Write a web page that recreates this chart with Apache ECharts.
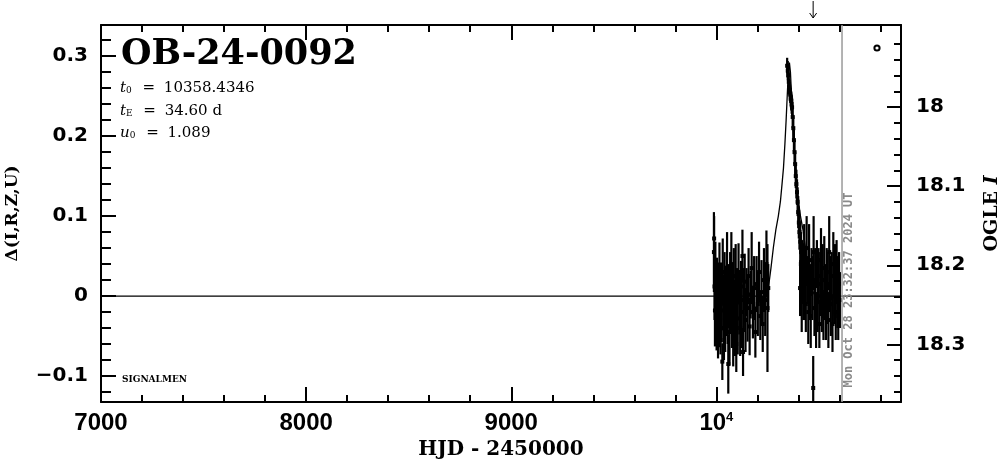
<!DOCTYPE html>
<html><head><meta charset="utf-8">
<script src="https://cdn.jsdelivr.net/npm/echarts@6/dist/echarts.min.js"></script>
<style>html,body{margin:0;padding:0;background:#fff}#c{width:1004px;height:459px}</style>
</head><body><div id="c"></div>
<script>
// ---- OGLE data: HJD-2450000, Delta mag, error ----
const hjd = [
 9988, 9989, 9991, 9993, 9995, 9998, 10001, 10003, 10006, 10008,
 10011, 10013, 10015, 10018, 10020, 10023, 10026, 10029, 10031, 10034,
 10037, 10040, 10043, 10046, 10049, 10052, 10055, 10058, 10061, 10064,
 10067, 10070, 10073, 10076, 10079, 10082, 10085, 10088, 10091, 10094,
 10097, 10100, 10104, 10108, 10112, 10116, 10120, 10124, 10127, 10130,
 10134, 10138, 10142, 10147, 10152, 10157, 10162, 10167, 10172, 10178,
 10184, 10190, 10196, 10202, 10208, 10214, 10220, 10226, 10232, 10238,
 10244, 10249, 10253,
 10345, 10348, 10350, 10353, 10355, 10358, 10360, 10363, 10365, 10367,
 10369, 10372, 10375, 10378, 10381, 10384, 10387, 10390, 10393, 10396,
 10399, 10402, 10405, 10409, 10413, 10418, 10423,
 10408, 10412, 10416, 10420, 10424, 10428, 10432, 10436, 10440, 10444,
 10448, 10452, 10456, 10460, 10464, 10468, 10472, 10474, 10478, 10482,
 10486, 10490, 10494, 10498, 10502, 10506, 10510, 10514, 10518, 10522,
 10526, 10530, 10534, 10538, 10542, 10546, 10550, 10554, 10558, 10562,
 10566, 10570, 10574, 10578, 10582, 10586, 10590, 10594, 10598, 10602
];
const delta = [
 0.055, 0.072, 0.012, -0.018, 0.028, -0.004, -0.035, 0.012, -0.022, -0.048,
 0.004, -0.014, 0.022, -0.030, -0.055, 0.006, -0.018, -0.082, 0.030, -0.008,
 -0.040, 0.015, -0.025, 0.008, -0.012, 0.035, -0.030, -0.085, 0.000, -0.045,
 0.020, -0.015, 0.040, -0.020, 0.005, -0.050, 0.015, -0.010, -0.035, 0.025,
 -0.060, 0.000, -0.028, 0.030, -0.008, -0.040, 0.012, -0.020, 0.050, -0.070,
 -0.005, 0.018, -0.030, 0.005, -0.015, 0.025, -0.038, 0.002, 0.035, -0.020,
 0.010, -0.045, 0.015, -0.010, 0.030, -0.025, 0.005, -0.035, 0.020, -0.005,
 0.040, -0.015, 0.010,
 0.288, 0.282, 0.276, 0.268, 0.262, 0.256, 0.252, 0.248, 0.244, 0.240,
 0.236, 0.224, 0.210, 0.195, 0.180, 0.165, 0.150, 0.140, 0.130, 0.118,
 0.105, 0.092, 0.080, 0.068, 0.055, 0.045, 0.040,
 0.010, 0.040, -0.005, 0.025, 0.000, 0.050, 0.015, -0.010, 0.060, 0.020,
 -0.020, 0.045, 0.005, -0.025, 0.030, 0.010, -0.115, 0.055, -0.015, 0.020,
 -0.030, 0.040, 0.000, 0.025, -0.035, 0.015, 0.045, -0.010, 0.020, -0.025,
 0.035, 0.005, -0.015, 0.030, 0.010, -0.030, 0.055, 0.015, -0.010, 0.025,
 -0.035, 0.040, 0.000, 0.020, -0.020, 0.030, 0.005, -0.025, 0.015, -0.005
];
const err = [
 0.050, 0.028, 0.042, 0.045, 0.040, 0.038, 0.033, 0.036, 0.041, 0.030,
 0.038, 0.030, 0.045, 0.034, 0.018, 0.036, 0.040, 0.023, 0.042, 0.035,
 0.040, 0.040, 0.045, 0.030, 0.038, 0.045, 0.030, 0.037, 0.040, 0.042,
 0.035, 0.030, 0.040, 0.045, 0.033, 0.038, 0.045, 0.030, 0.040, 0.040,
 0.035, 0.035, 0.045, 0.036, 0.040, 0.035, 0.032, 0.045, 0.033, 0.030,
 0.040, 0.035, 0.040, 0.030, 0.042, 0.035, 0.036, 0.030, 0.045, 0.033,
 0.040, 0.032, 0.035, 0.040, 0.038, 0.030, 0.040, 0.035, 0.040, 0.045,
 0.042, 0.080, 0.030,
 0.010, 0.012, 0.010, 0.012, 0.010, 0.012, 0.010, 0.012, 0.012, 0.012,
 0.012, 0.014, 0.015, 0.014, 0.015, 0.016, 0.015, 0.018, 0.016, 0.018,
 0.020, 0.020, 0.022, 0.024, 0.025, 0.025, 0.026,
 0.035, 0.030, 0.040, 0.035, 0.030, 0.040, 0.045, 0.035, 0.040, 0.030,
 0.040, 0.045, 0.035, 0.040, 0.030, 0.040, 0.040, 0.045, 0.035, 0.040,
 0.035, 0.030, 0.045, 0.035, 0.030, 0.040, 0.040, 0.035, 0.045, 0.030,
 0.040, 0.035, 0.040, 0.030, 0.045, 0.035, 0.045, 0.035, 0.040, 0.030,
 0.035, 0.040, 0.035, 0.045, 0.035, 0.040, 0.045, 0.030, 0.040, 0.035
];
// ---- model curve ----
const modelT = [7000, 10230, 10254, 10266, 10278, 10290, 10302, 10312, 10320, 10327, 10334, 10340, 10346, 10351, 10356,
                10361, 10366, 10372, 10378, 10385, 10392, 10400, 10410, 10422, 10434, 10446, 10458, 10482, 10900];
const modelD = [0, 0, 0.011, 0.035, 0.061, 0.083, 0.100, 0.118, 0.140, 0.160, 0.190, 0.220, 0.254, 0.280, 0.292,
                0.280, 0.254, 0.220, 0.190, 0.160, 0.140, 0.118, 0.100, 0.083, 0.061, 0.035, 0.011, 0, 0];
// ---- ticks ----
const xMajorTicks = [7000, 8000, 9000, 10000];
const xMinorTicks = [7200, 7400, 7600, 7800, 8200, 8400, 8600, 8800, 9200, 9400, 9600, 9800, 10200, 10400, 10600, 10800];
const dMajorTicks = [-0.1, 0, 0.1, 0.2, 0.3];
const dMinorTicks = [-0.12, -0.08, -0.06, -0.04, -0.02, 0.02, 0.04, 0.06, 0.08, 0.12, 0.14, 0.16, 0.18, 0.22, 0.24, 0.26, 0.28, 0.32];
const iMajorTicks = [18, 18.1, 18.2, 18.3];
const iMinorTicks = [17.92, 17.94, 17.96, 17.98, 18.02, 18.04, 18.06, 18.08, 18.12, 18.14, 18.16, 18.18, 18.22, 18.24, 18.26, 18.28, 18.32, 18.34, 18.36];
// ---- markers ----
const nowHJD = 10612.48;
const nowLabel = 'Mon Oct 28 23:32:37 2024 UT';
const arrowHJD = [10471.7];

const X_MIN = 7000, X_MAX = 10900;
const D_MIN = -0.1325, D_MAX = 0.339;
const I_MIN = 17.896, I_MAX = 18.373;

const chart = echarts.init(document.getElementById('c'), null, {renderer: 'canvas'});

const black = '#000';
const lineAx = {show: true, onZero: false, lineStyle: {color: black, width: 2}};
const noLine = {show: false, onZero: false};
function ax(o) {
  return Object.assign({type: 'value', splitLine: {show: false}, minorTick: {show: false}, minorSplitLine: {show: false}}, o);
}
const tickStyle = {color: black, width: 2};

const errData = hjd.map((t, i) => [t, delta[i], err[i]]);
const modelData = modelT.map((t, i) => [t, modelD[i]]);

const paramRich = {
  i: {fontFamily: 'DejaVu Serif', fontStyle: 'italic', fontSize: 15, color: black},
  s: {fontFamily: 'DejaVu Serif', fontSize: 9, verticalAlign: 'bottom', color: black},
  e: {fontFamily: 'DejaVu Serif', fontSize: 15, padding: [0, 4, 0, 6], color: black}
};

const option = {
  animation: false,
  backgroundColor: '#fff',
  grid: {left: 101, right: 103, top: 25, bottom: 57, containLabel: false, outerBoundsMode: 'none'},
  xAxis: [
    ax({position: 'bottom', min: X_MIN, max: X_MAX, axisLine: lineAx,
        axisTick: {show: true, inside: true, length: 7, customValues: xMinorTicks, lineStyle: tickStyle},
        axisLabel: {show: false}}),
    ax({position: 'bottom', min: X_MIN, max: X_MAX, axisLine: noLine,
        axisTick: {show: true, inside: true, length: 15, customValues: xMajorTicks, lineStyle: tickStyle},
        axisLabel: {show: true, customValues: xMajorTicks, margin: 9, color: black,
          fontFamily: 'Liberation Sans', fontWeight: 'bold', fontSize: 24,
          formatter: v => v === 10000 ? '{b|10}{sup|4}' : String(v),
          rich: {b: {fontFamily: 'Liberation Sans', fontWeight: 'bold', fontSize: 24, color: black},
                 sup: {fontFamily: 'Liberation Sans', fontWeight: 'bold', fontSize: 13, color: black, verticalAlign: 'top'}}},
        name: 'HJD - 2450000', nameLocation: 'middle', nameGap: 34,
        nameTextStyle: {fontFamily: 'DejaVu Serif', fontWeight: 'bold', fontSize: 20, color: black}}),
    ax({position: 'top', min: X_MIN, max: X_MAX, axisLine: lineAx,
        axisTick: {show: true, inside: true, length: 7, customValues: xMinorTicks, lineStyle: tickStyle},
        axisLabel: {show: false}}),
    ax({position: 'top', min: X_MIN, max: X_MAX, axisLine: noLine,
        axisTick: {show: true, inside: true, length: 15, customValues: xMajorTicks, lineStyle: tickStyle},
        axisLabel: {show: false}})
  ],
  yAxis: [
    ax({position: 'left', min: D_MIN, max: D_MAX, axisLine: lineAx,
        axisTick: {show: true, inside: true, length: 15, customValues: dMajorTicks, lineStyle: tickStyle},
        axisLabel: {show: true, customValues: dMajorTicks, margin: 13, color: black,
          fontFamily: 'DejaVu Sans', fontWeight: 'bold', fontSize: 20,
          formatter: v => v === 0 ? '0' : (v < 0 ? '\u2212' + (-v).toFixed(1) : v.toFixed(1))},
        name: '\u0394(I,R,Z,U)', nameLocation: 'middle', nameRotate: 90, nameGap: 80,
        nameTextStyle: {fontFamily: 'DejaVu Serif', fontWeight: 'bold', fontSize: 17, color: black}}),
    ax({position: 'left', min: D_MIN, max: D_MAX, axisLine: noLine,
        axisTick: {show: true, inside: true, length: 10, customValues: dMinorTicks, lineStyle: tickStyle},
        axisLabel: {show: false}}),
    ax({position: 'right', min: I_MIN, max: I_MAX, inverse: true, axisLine: lineAx,
        axisTick: {show: true, inside: true, length: 14, customValues: iMajorTicks, lineStyle: tickStyle},
        axisLabel: {show: true, customValues: iMajorTicks, margin: 15, color: black,
          fontFamily: 'DejaVu Sans', fontWeight: 'bold', fontSize: 20,
          formatter: v => (Math.round(v * 10) % 10 === 0) ? String(Math.round(v)) : v.toFixed(1)},
        name: 'OGLE {i|I}', nameLocation: 'middle', nameRotate: 90, nameGap: 82,
        nameTextStyle: {fontFamily: 'DejaVu Serif', fontWeight: 'bold', fontSize: 19, color: black,
          rich: {i: {fontFamily: 'DejaVu Serif', fontWeight: 'bold', fontStyle: 'italic', fontSize: 19, color: black}}}}),
    ax({position: 'right', min: I_MIN, max: I_MAX, inverse: true, axisLine: noLine,
        axisTick: {show: true, inside: true, length: 7, customValues: iMinorTicks, lineStyle: tickStyle},
        axisLabel: {show: false}})
  ],
  series: [
    {
      type: 'line', xAxisIndex: 0, yAxisIndex: 0, data: modelData, showSymbol: false, symbol: 'none',
      lineStyle: {color: black, width: 1.3}, smooth: false, z: 2, silent: true
    },
    {
      type: 'custom', xAxisIndex: 0, yAxisIndex: 0, data: errData, z: 3, silent: true,
      renderItem: function (params, api) {
        const cs = params.coordSys;
        const t = api.value(0), d = api.value(1), e = api.value(2);
        const p = api.coord([t, d]);
        const top = Math.max(cs.y, api.coord([t, d + e])[1]);
        const bot = Math.min(cs.y + cs.height, api.coord([t, d - e])[1]);
        return {type: 'group', children: [
          {type: 'line', shape: {x1: p[0], y1: top, x2: p[0], y2: bot}, style: {stroke: black, lineWidth: 2.2}},
          {type: 'rect', shape: {x: p[0] - 2, y: p[1] - 2, width: 4, height: 4}, style: {fill: black}}
        ]};
      }
    },
    {
      type: 'custom', xAxisIndex: 0, yAxisIndex: 0, data: [[nowHJD]], z: 4, silent: true, clip: false,
      renderItem: function (params, api) {
        const cs = params.coordSys;
        const x = api.coord([api.value(0), 0])[0];
        return {type: 'group', children: [
          {type: 'line', shape: {x1: x, y1: cs.y, x2: x, y2: cs.y + cs.height}, style: {stroke: '#9a9a9a', lineWidth: 1.5}},
          {type: 'text', x: x + 6.5, y: cs.y + cs.height - 112, rotation: Math.PI / 2,
           style: {text: nowLabel, fill: '#8a8a8a', font: 'bold 12px "DejaVu Sans Mono"', align: 'center', verticalAlign: 'middle'}}
        ]};
      }
    },
    {
      type: 'custom', xAxisIndex: 0, yAxisIndex: 0, data: arrowHJD.map(v => [v]), z: 4, silent: true, clip: false,
      renderItem: function (params, api) {
        const cs = params.coordSys;
        const x = api.coord([api.value(0), 0])[0];
        const y0 = cs.y - 24, y1 = cs.y - 7;
        return {type: 'group', children: [
          {type: 'line', shape: {x1: x, y1: y0, x2: x, y2: y1}, style: {stroke: black, lineWidth: 1}},
          {type: 'polyline', shape: {points: [[x - 3.5, y1 - 5], [x, y1], [x + 3.5, y1 - 5]]}, style: {stroke: black, lineWidth: 1, fill: null}}
        ]};
      }
    }
  ],
  graphic: [
    {type: 'text', x: 121, y: 55, style: {text: 'OB-24-0092', font: 'bold 35px "DejaVu Serif"', fill: black, align: 'left', verticalAlign: 'middle'}},
    {type: 'text', x: 120, y: 88, style: {text: '{i|t}{s|0} {e|=} 10358.4346', font: '15px "DejaVu Serif"', fill: black, align: 'left', verticalAlign: 'middle', rich: paramRich}},
    {type: 'text', x: 120, y: 111, style: {text: '{i|t}{s|E} {e|=} 34.60 d', font: '15px "DejaVu Serif"', fill: black, align: 'left', verticalAlign: 'middle', rich: paramRich}},
    {type: 'text', x: 120, y: 133, style: {text: '{i|u}{s|0} {e|=} 1.089', font: '15px "DejaVu Serif"', fill: black, align: 'left', verticalAlign: 'middle', rich: paramRich}},
    {type: 'text', x: 122, y: 380, style: {text: 'SIGNALMEN', font: 'bold 9px "DejaVu Serif"', fill: black, align: 'left', verticalAlign: 'middle'}},
    {type: 'circle', x: 877, y: 48, shape: {r: 2.6}, style: {fill: null, stroke: black, lineWidth: 2}}
  ]
};
chart.setOption(option);
</script>
</body></html>
